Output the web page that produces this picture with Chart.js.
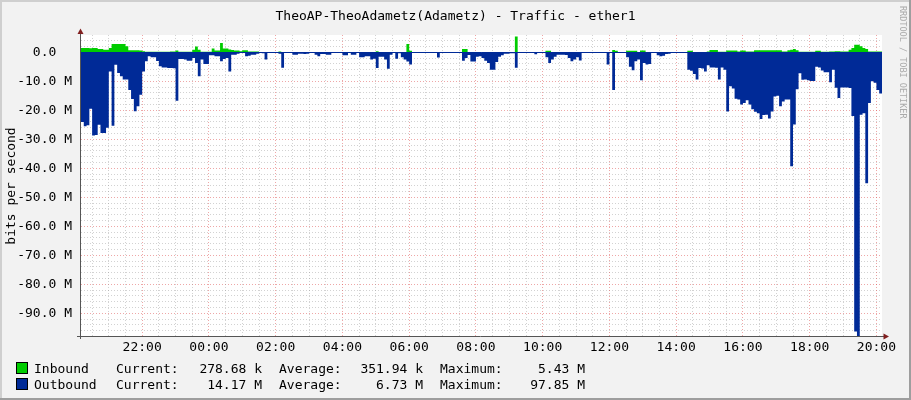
<!DOCTYPE html>
<html>
<head>
<meta charset="utf-8">
<title>TheoAP-TheoAdametz(Adametz) - Traffic - ether1</title>
<script src="https://cdn.jsdelivr.net/npm/chart.js@4/dist/chart.umd.min.js"></script>
<style>
  html, body { margin: 0; padding: 0; background: #f2f2f2; }
  canvas { display: block; }
</style>
</head>
<body>
<canvas id="traffic" width="911" height="400"></canvas>
<script>
// 24h of 5 minute samples, first sample at 20:10, values in Mbit/s
const startTime = '20:10';
const stepMinutes = 5;

const inbound = [
  1.5, 1.5, 1.5, 1.4, 1.5, 1.5, 1.1, 1.1, 0.9, 0.9, 1.5, 2.9,
  2.9, 2.9, 2.9, 2.9, 2.1, 0.7, 0.7, 0.7, 0.7, 0.6, 0.4, 0.2,
  0.2, 0.2, 0.2, 0.2, 0.2, 0.2, 0.2, 0.2, 0.3, 0.3, 0.6, 0.2,
  0.2, 0.2, 0.2, 0.2, 0.9, 2, 0.9, 0.2, 0.2, 0.2, 0.2, 1.3,
  0.6, 0.6, 3.2, 1.3, 1.3, 1, 0.8, 0.6, 0.6, 0.4, 0.7, 0.7,
  0.3, 0.3, 0.3, 0.3, 0.1, 0, 0, 0, 0, 0, 0, 0.3,
  0, 0, 0, 0, 0, 0, 0, 0, 0, 0, 0, 0,
  0, 0, 0, 0, 0, 0, 0, 0, 0, 0, 0, 0,
  0, 0, 0, 0, 0, 0, 0, 0, 0, 0, 0.4, 0,
  0, 0, 0, 0, 0, 0, 0, 0, 0, 2.9, 0.5, 0,
  0, 0, 0, 0, 0, 0, 0, 0, 0, 0, 0, 0,
  0, 0, 0, 0, 0, 1.1, 1.1, 0, 0, 0, 0, 0,
  0, 0, 0, 0, 0, 0, 0, 0, 0, 0, 0, 0,
  5.43, 0, 0, 0, 0, 0, 0, 0, 0, 0, 0, 0.5,
  0.5, 0, 0, 0, 0, 0, 0, 0, 0, 0, 0, 0,
  0, 0, 0, 0, 0, 0, 0, 0, 0, 0, 0, 0.8,
  0.5, 0, 0, 0, 0.5, 0.5, 0.5, 0.5, 0.1, 0.6, 0.6, 0,
  0, 0, 0, 0, 0, 0, 0, 0, 0, 0, 0, 0,
  0, 0, 0.5, 0.5, 0.1, 0.1, 0.1, 0.1, 0.1, 0.3, 0.8, 0.8,
  0.8, 0.2, 0.2, 0.2, 0.6, 0.6, 0.6, 0.6, 0.3, 0.6, 0.6, 0.3,
  0.3, 0.3, 0.7, 0.7, 0.7, 0.7, 0.7, 0.7, 0.7, 0.7, 0.7, 0.7,
  0.3, 0.3, 0.7, 0.9, 1.1, 0.7, 0.2, 0.2, 0.2, 0.2, 0.2, 0.2,
  0.5, 0.5, 0.2, 0.2, 0.2, 0.3, 0.3, 0.4, 0.4, 0.3, 0.3, 0.3,
  0.9, 1.5, 2.6, 2.6, 2.1, 1.5, 1.1, 0.3, 0.3, 0.3, 0.3, 0.28
];

const outbound = [
  24, 25.5, 25.2, 19.5, 28.7, 28.5, 25, 27.8, 27.8, 26, 6.6, 25.3,
  4.3, 7.1, 8.3, 9.4, 9.4, 13, 16.1, 20.3, 18.6, 14.6, 6.6, 3.1,
  1.4, 1.7, 1.7, 3, 4.8, 5.2, 5.2, 5.4, 5.4, 5.5, 16.7, 2.3,
  2.3, 2.5, 2.9, 2.9, 2, 3.7, 8.3, 2.5, 4, 4, 1, 1,
  1.4, 1.4, 3.1, 2.3, 2, 6.6, 0.8, 0.8, 0.5, 0.2, 0.2, 1.4,
  1.2, 0.8, 0.8, 0.5, 0.2, 0.3, 2.5, 0.2, 0.2, 0.2, 0.2, 0.5,
  5.3, 0.2, 0.2, 0.2, 0.8, 0.8, 0.5, 0.5, 0.6, 0.5, 0.2, 0.2,
  0.8, 1.4, 0.6, 0.6, 0.8, 0.8, 0.1, 0.1, 0.1, 0.1, 1, 1,
  0.2, 0.8, 0.8, 0.2, 1.7, 1.7, 1.4, 1.4, 2.5, 2.2, 5.4, 1.5,
  1.5, 2.5, 5.7, 0.8, 0.2, 2.2, 0.3, 1.7, 2.5, 3.2, 4.2, 0.1,
  0.1, 0.1, 0.1, 0.1, 0.1, 0.1, 0.1, 0.1, 1.8, 0.1, 0.1, 0.1,
  0.1, 0.1, 0.1, 0.1, 0.1, 2.9, 2, 0.9, 3.2, 3.2, 1.5, 1.4,
  2, 2.9, 3.7, 6, 6, 3.3, 1.5, 1, 0.5, 0.5, 0.3, 0.3,
  5.3, 0.1, 0.1, 0.1, 0.1, 0.1, 0.1, 0.7, 0.1, 0.1, 0.1, 1.7,
  3.7, 2.5, 1.5, 0.8, 0.8, 0.8, 0.9, 2, 3.1, 2.5, 1.7, 2.8,
  0.1, 0.1, 0.1, 0.1, 0.1, 0.1, 0.1, 0.1, 0.1, 4.2, 0.1, 13,
  0.2, 0.1, 0.1, 0.1, 1.7, 5, 6.2, 3.1, 2.5, 9.6, 3.7, 4.2,
  4, 0.1, 0.1, 1, 1.4, 1.2, 0.6, 0.5, 0.1, 0.1, 0.1, 0.1,
  0.1, 0.1, 6, 6.4, 7.5, 9.4, 5.4, 5.6, 6.6, 4.5, 5.2, 5.2,
  5.3, 9.4, 5.2, 6, 20.4, 11.7, 12.5, 16, 16.3, 18, 17.5, 16.5,
  18, 19.6, 20.5, 21, 23, 21.6, 21.5, 22.8, 20.4, 15.2, 15, 18.6,
  17, 16.3, 16.3, 39.3, 24.9, 12.7, 7.2, 9.5, 9.4, 9.6, 9.9, 9.9,
  5, 5.2, 6.3, 6.9, 6.9, 10.3, 6, 12.2, 15.8, 12.1, 12.1, 12.1,
  12.3, 22, 96.3, 97.85, 21.5, 21, 45.2, 17.5, 10, 10.5, 13, 14.17
];

const xTickLabels = ['22:00', '00:00', '02:00', '04:00', '06:00', '08:00',
                     '10:00', '12:00', '14:00', '16:00', '18:00', '20:00'];
const yTicks = [0, -10, -20, -30, -40, -50, -60, -70, -80, -90]; // M

const seriesNames = ['Inbound', 'Outbound'];
const currentVals = ['278.68 k', '14.17 M'];
const averageVals = ['351.94 k', '6.73 M'];
const maximumVals = ['5.43 M', '97.85 M'];

const GREEN = '#00cc00';
const BLUE = '#002a97';
const MONO = '"DejaVu Sans Mono", "Liberation Mono", monospace';

const toMinutes = t => {
  const [h, m] = t.split(':').map(Number);
  return h * 60 + m;
};
const offsetOf = t => (toMinutes(t) - toMinutes(startTime) + 1440) % 1440;

// rrd style: a sample's value holds until the next sample
function toPoints(vals, sign) {
  const pts = vals.map((v, i) => ({ x: i * stepMinutes, y: sign * v * 1e6 }));
  pts.push({ x: vals.length * stepMinutes, y: sign * vals[vals.length - 1] * 1e6 });
  return pts;
}

const rrdFrame = {
  id: 'rrdFrame',
  beforeDraw(chart) {
    const { ctx, width, height, chartArea: a } = chart;
    ctx.save();
    ctx.fillStyle = '#f2f2f2';
    ctx.fillRect(0, 0, width, height);
    ctx.fillStyle = '#cfcfcf';
    ctx.fillRect(0, 0, width, 2);
    ctx.fillRect(0, 0, 2, height);
    ctx.fillStyle = '#9e9e9e';
    ctx.fillRect(0, height - 2, width, 2);
    ctx.fillRect(width - 2, 0, 2, height);
    ctx.fillStyle = '#ffffff';
    ctx.fillRect(a.left, a.top, a.right - a.left, a.bottom - a.top);
    ctx.restore();
  },
  beforeDatasetsDraw(chart) {
    const { ctx, chartArea: a, scales: { x, y } } = chart;
    ctx.save();
    ctx.lineWidth = 1;
    ctx.setLineDash([1, 2]);
    const line = (x1, y1, x2, y2, color) => {
      ctx.strokeStyle = color;
      ctx.beginPath();
      ctx.moveTo(x1, y1);
      ctx.lineTo(x2, y2);
      ctx.stroke();
    };
    // horizontal: minor every 2 M, major every 10 M
    for (let m = Math.ceil(y.min / 2e6) * 2; m * 1e6 <= y.max; m += 2) {
      const py = Math.floor(y.getPixelForValue(m * 1e6)) + 0.5;
      const major = m % 10 === 0;
      line(a.left, py, a.right, py, major ? 'rgba(222,79,79,0.5)' : 'rgba(143,143,143,0.4)');
    }
    // vertical: minor every 30 min, major every 2 h
    const t0 = toMinutes(startTime);
    for (let m = (30 - t0 % 30) % 30; m <= x.max; m += 30) {
      const px = Math.floor(x.getPixelForValue(m)) + 0.5;
      const major = (t0 + m) % 120 === 0;
      line(px, a.top, px, a.bottom, major ? 'rgba(222,79,79,0.5)' : 'rgba(143,143,143,0.4)');
    }
    ctx.restore();
  },
  afterDatasetsDraw(chart) {
    const { ctx, chartArea: a, scales: { y } } = chart;
    ctx.save();
    ctx.lineWidth = 1;
    // zero line
    const y0 = Math.floor(y.getPixelForValue(0)) + 0.5;
    ctx.strokeStyle = BLUE;
    ctx.beginPath();
    ctx.moveTo(a.left, y0);
    ctx.lineTo(a.right, y0);
    ctx.stroke();
    // axes
    ctx.strokeStyle = '#555';
    ctx.beginPath();
    ctx.moveTo(a.left - 0.5, a.top - 5);
    ctx.lineTo(a.left - 0.5, a.bottom + 3);
    ctx.moveTo(a.left - 4, a.bottom + 0.5);
    ctx.lineTo(a.right + 2, a.bottom + 0.5);
    ctx.stroke();
    // arrows
    ctx.fillStyle = '#801f1f';
    ctx.beginPath();
    ctx.moveTo(a.left - 0.5, a.top - 6.5);
    ctx.lineTo(a.left - 3.5, a.top - 1);
    ctx.lineTo(a.left + 2.5, a.top - 1);
    ctx.closePath();
    ctx.fill();
    ctx.beginPath();
    ctx.moveTo(a.right + 7, a.bottom + 0.5);
    ctx.lineTo(a.right + 1.5, a.bottom - 2.5);
    ctx.lineTo(a.right + 1.5, a.bottom + 3.5);
    ctx.closePath();
    ctx.fill();
    ctx.restore();
  },
  afterDraw(chart) {
    const { ctx, width } = chart;
    ctx.save();
    ctx.fillStyle = '#000';
    ctx.font = '13px ' + MONO;
    ctx.textBaseline = 'alphabetic';
    ctx.textAlign = 'center';
    ctx.fillText('TheoAP-TheoAdametz(Adametz) - Traffic - ether1', width / 2, 19.5);

    // y axis title
    ctx.save();
    ctx.translate(15, 186);
    ctx.rotate(-Math.PI / 2);
    ctx.fillText('bits per second', 0, 0);
    ctx.restore();

    // watermark
    ctx.save();
    ctx.fillStyle = '#aaa';
    ctx.font = '8.5px ' + MONO;
    ctx.translate(900, 6);
    ctx.rotate(Math.PI / 2);
    ctx.textAlign = 'left';
    ctx.fillText('RRDTOOL / TOBI OETIKER', 0, 0);
    ctx.restore();

    // legend
    const colors = [GREEN, BLUE];
    const rowsY = [373, 389];
    seriesNames.forEach((name, i) => {
      const by = rowsY[i];
      ctx.fillStyle = colors[i];
      ctx.fillRect(17, by - 10, 10, 10);
      ctx.strokeStyle = '#000';
      ctx.lineWidth = 1;
      ctx.strokeRect(16.5, by - 10.5, 11, 11);
      ctx.fillStyle = '#000';
      ctx.textAlign = 'left';
      ctx.fillText(name, 34, by);
      ctx.fillText('Current:', 116, by);
      ctx.fillText('Average:', 279, by);
      ctx.fillText('Maximum:', 440, by);
      ctx.textAlign = 'right';
      ctx.fillText(currentVals[i], 262, by);
      ctx.fillText(averageVals[i], 423, by);
      ctx.fillText(maximumVals[i], 585, by);
    });
    ctx.restore();
  }
};

new Chart(document.getElementById('traffic'), {
  type: 'line',
  data: {
    datasets: [
      {
        label: seriesNames[0],
        data: toPoints(inbound, 1),
        backgroundColor: GREEN,
        borderWidth: 0,
        pointRadius: 0,
        stepped: true,
        fill: 'origin'
      },
      {
        label: seriesNames[1],
        data: toPoints(outbound, -1),
        backgroundColor: BLUE,
        borderWidth: 0,
        pointRadius: 0,
        stepped: true,
        fill: 'origin'
      }
    ]
  },
  options: {
    responsive: false,
    animation: false,
    events: [],
    layout: { padding: { left: 0, top: 35, right: 29, bottom: 0 } },
    plugins: { legend: { display: false }, tooltip: { enabled: false } },
    scales: {
      x: {
        type: 'linear',
        min: 0,
        max: 1440,
        afterFit: s => { s.height = 64; },
        afterBuildTicks: s => { s.ticks = xTickLabels.map(l => ({ value: offsetOf(l) })); },
        grid: { display: false, drawTicks: false },
        border: { display: false },
        ticks: {
          callback: (v, i) => xTickLabels[i],
          font: { family: MONO, size: 13 },
          color: '#000',
          padding: 4,
          maxRotation: 0,
          autoSkip: false
        }
      },
      y: {
        min: -97.85e6,
        max: 5.97e6,
        afterFit: s => { s.width = 81; },
        afterBuildTicks: s => { s.ticks = yTicks.map(v => ({ value: v * 1e6 })); },
        grid: { display: false, drawTicks: false },
        border: { display: false },
        ticks: {
          callback: v => v === 0 ? '0.0  ' : (v / 1e6).toFixed(1) + ' M',
          font: { family: MONO, size: 13 },
          color: '#000',
          padding: 9,
          autoSkip: false
        }
      }
    }
  },
  plugins: [rrdFrame]
});
</script>
</body>
</html>
